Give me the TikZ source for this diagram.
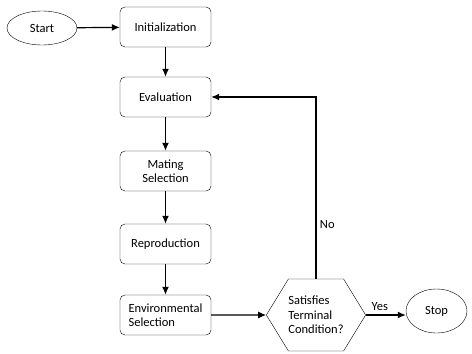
\documentclass[tikz,border=0pt]{standalone}
\usepackage{fontspec}
\setmainfont{Carlito}
\usetikzlibrary{shapes.geometric,shapes.symbols,arrows.meta}

\begin{document}
\begin{tikzpicture}[x=1pt, y=-1pt,
    font=\fontsize{12.5}{14.5}\selectfont,
    stepbox/.style={draw, rounded corners=5pt, minimum width=91pt, minimum height=40pt, align=center, inner sep=1pt},
    terminal/.style={draw, ellipse, inner sep=0pt},
    flow/.style={-{Latex[length=8pt,width=7pt]}, line width=1.2pt}]
    \useasboundingbox (0,0) rectangle (472,354);
    \node[terminal, minimum width=70pt, minimum height=34pt] (start) at (42,28) {Start};
    \node[stepbox] (init) at (165.5,27) {Initialization};
    \node[stepbox] (eval) at (165.5,97) {Evaluation};
    \node[stepbox] (mating) at (165.5,171) {Mating\\Selection};
    \node[stepbox] (repro) at (165.5,244) {Reproduction};
    \node[stepbox, align=left] (envsel) at (165.5,315) {Environmental\\Selection};
    \node[draw, signal, signal to=west and east, signal pointer angle=117,
          minimum width=96pt, minimum height=72pt, inner sep=0pt, align=left] (cond) at (316,315) {Satisfies\\Terminal\\Condition?};
    \node[terminal, minimum width=61pt, minimum height=44pt] (stop) at (436.5,311) {Stop};
    \coordinate (turn) at (316,97);

    \draw[flow] (start) -- (init);
    \draw[flow] (init) -- (eval);
    \draw[flow] (eval) -- (mating);
    \draw[flow] (mating) -- (repro);
    \draw[flow] (repro) -- (envsel);
    \draw[flow] (envsel) -- (cond);
    \draw[flow] (cond.east) -- node[above, pos=0.35] {Yes} (stop.west |- cond.east);
    \draw[flow] (cond.north) -- node[right, pos=0.3] {No} (turn) -- (eval);
\end{tikzpicture}
\end{document}
